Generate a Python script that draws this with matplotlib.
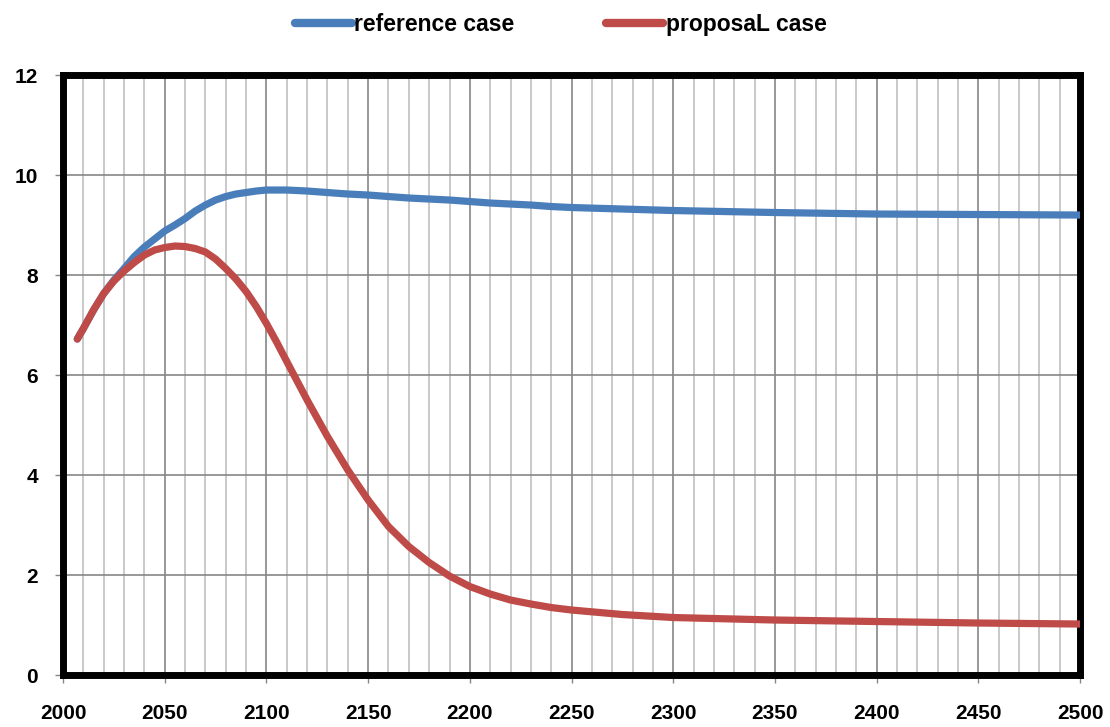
import matplotlib.pyplot as plt
from matplotlib.ticker import MultipleLocator

plt.rcParams["font.family"] = ["Liberation Sans", "DejaVu Sans"]

BLUE = "#4a7ebb"
RED = "#be4b48"

years = [2007, 2010, 2015, 2020, 2025, 2030, 2035, 2040, 2045, 2050, 2055,
         2060, 2065, 2070, 2075, 2080, 2085, 2090, 2095, 2100, 2105, 2110,
         2120, 2130, 2140, 2150, 2160, 2170, 2180, 2190, 2200, 2210, 2220,
         2230, 2240, 2250, 2275, 2300, 2350, 2400, 2450, 2500]
reference = [6.72, 6.93, 7.3, 7.63, 7.9, 8.13, 8.37, 8.56, 8.72, 8.88, 9.0,
             9.13, 9.28, 9.4, 9.5, 9.57, 9.62, 9.65, 9.68, 9.7, 9.7, 9.7,
             9.68, 9.65, 9.62, 9.6, 9.57, 9.54, 9.52, 9.5, 9.47, 9.44, 9.42,
             9.4, 9.37, 9.35, 9.32, 9.29, 9.25, 9.22, 9.21, 9.2]
proposal = [6.72, 6.93, 7.3, 7.63, 7.88, 8.08, 8.25, 8.4, 8.5, 8.55, 8.58,
            8.57, 8.53, 8.46, 8.32, 8.13, 7.92, 7.67, 7.37, 7.03, 6.66, 6.27,
            5.5, 4.77, 4.1, 3.5, 2.97, 2.57, 2.25, 1.98, 1.77, 1.62, 1.5,
            1.42, 1.35, 1.3, 1.21, 1.15, 1.1, 1.07, 1.04, 1.02]

fig = plt.figure(figsize=(11.1, 7.27), dpi=100)
ax = fig.add_axes([0.0568, 0.0715, 0.9162, 0.8253])

ax.plot(years, reference, color=BLUE, lw=5.2, solid_capstyle="round",
        solid_joinstyle="round", label="reference case", zorder=3)
ax.plot(years, proposal, color=RED, lw=5.2, solid_capstyle="round",
        solid_joinstyle="round", label="proposaL case", zorder=3)

ax.set_xlim(2000, 2500)
ax.set_ylim(0, 12)
ax.xaxis.set_major_locator(MultipleLocator(50))
ax.xaxis.set_minor_locator(MultipleLocator(10))
ax.yaxis.set_major_locator(MultipleLocator(2))

ax.grid(which="minor", axis="x", color="#c0c0c0", lw=1.2)
ax.grid(which="major", axis="x", color="#868686", lw=1.2)
ax.grid(which="major", axis="y", color="#868686", lw=1.2)
ax.set_axisbelow(True)

for s in ax.spines.values():
    s.set_linewidth(5)
    s.set_color("black")

ax.tick_params(axis="x", which="major", length=6, width=1, color="#868686",
               pad=15, labelsize=15)
ax.tick_params(axis="x", which="minor", length=0)
ax.tick_params(axis="y", length=6, width=1, color="#868686", pad=12,
               labelsize=15)
for lab in ax.get_xticklabels() + ax.get_yticklabels():
    lab.set_fontweight("bold")

leg = fig.legend(loc="upper center", bbox_to_anchor=(0.505, 1.01), ncol=2,
                 frameon=False, handlelength=2.5, handletextpad=0.1,
                 columnspacing=4.0, prop={"weight": "bold", "size": 16.5})
for line in leg.get_lines():
    line.set_linewidth(6)
    line.set_solid_capstyle("round")

fig.savefig("out.png", dpi=100)
